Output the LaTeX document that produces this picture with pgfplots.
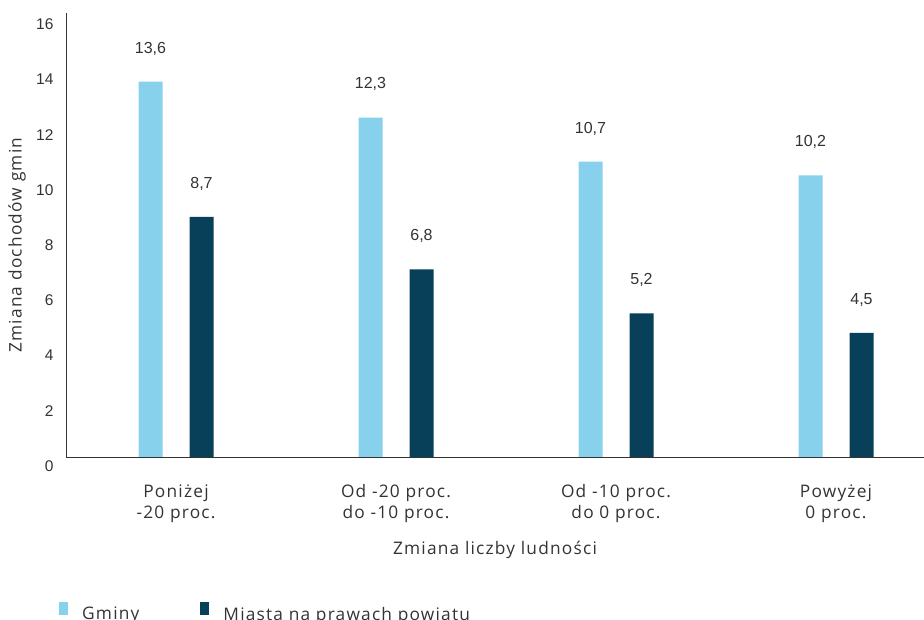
\documentclass[border=0pt]{standalone}
\usepackage{fontspec}
\setmainfont[LetterSpace=7]{Open Sans}
\newfontfamily\numfont{Liberation Sans}
\usepackage{pgfplots}
\pgfplotsset{compat=1.18}
\definecolor{lightbar}{RGB}{135,209,236}
\definecolor{darkbar}{RGB}{8,63,89}
\definecolor{txt}{RGB}{51,51,51}
\begin{document}
\begin{tikzpicture}
\useasboundingbox (-66pt,-163pt) rectangle (858pt,457pt);
\clip (-66pt,-163pt) rectangle (858pt,457pt);
\begin{axis}[
  at={(0pt,0pt)}, anchor=south west,
  scale only axis, width=858pt, height=444pt,
  xmin=-0.5, xmax=3.4, ymin=0, ymax=16.087,
  axis x line*=bottom, axis y line*=left,
  axis line style={draw=txt, line width=0.8pt, -},
  ybar=27pt, bar width=24pt,
  major tick length=0pt,
  xtick={0,1,2,3},
  xticklabels={{Poniżej\\-20 proc.},{Od -20 proc.\\do -10 proc.},{Od -10 proc.\\do 0 proc.},{Powyżej\\0 proc.}},
  xticklabel style={align=center, font=\fontsize{17.3}{21}\selectfont, text=txt, yshift=-24pt},
  ytick={0,2,...,16},
  /pgf/number format/assume math mode=true,
  yticklabel style={font=\numfont\fontsize{15.5}{18}\selectfont, text=txt, anchor=east, yshift=-9pt, xshift=-9pt},
  ylabel={Zmiana dochodów gmin},
  every axis y label/.style={at={(axis description cs:-0.0571,0.477)}, rotate=90, anchor=center, font=\fontsize{17.3}{18}\selectfont, text=txt},
  xlabel={Zmiana liczby ludności},
  every axis x label/.style={at={(axis description cs:0.5,0)}, anchor=center, yshift=-93pt, font=\fontsize{17.3}{18}\selectfont, text=txt},
  nodes near coords={\pgfmathprintnumber[fixed,fixed zerofill,precision=1,use comma,assume math mode=true]{\pgfplotspointmeta}},
  every node near coord/.append style={font=\numfont\fontsize{16}{18}\selectfont, text=txt, anchor=south, yshift=23pt},
  legend columns=2,
  legend style={at={(axis description cs:0,0)}, anchor=north west, xshift=-10pt, yshift=-143pt,
    draw=none, fill=none, font=\fontsize{17.3}{18}\selectfont, text=txt,
    /tikz/every odd column/.append style={column sep=12pt},
    /tikz/every even column/.append style={column sep=59pt}},
  legend image code/.code={\fill[#1] (0pt,-1pt) rectangle (9pt,12pt);},
]
\addplot[fill=lightbar, draw=none] coordinates {(0,13.6) (1,12.3) (2,10.7) (3,10.2)};
\addplot[fill=darkbar, draw=none] coordinates {(0,8.7) (1,6.8) (2,5.2) (3,4.5)};
\legend{Gminy, Miasta na prawach powiatu}
\end{axis}
\end{tikzpicture}
\end{document}
